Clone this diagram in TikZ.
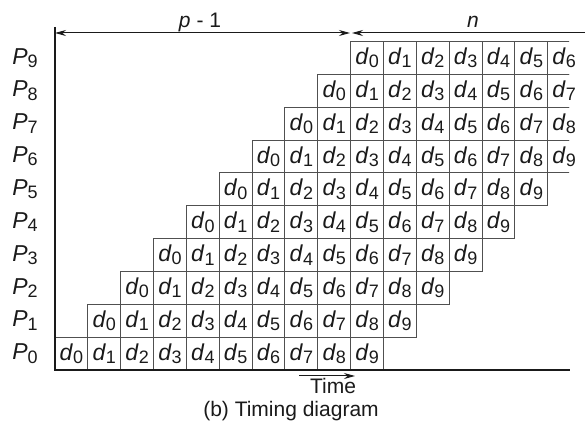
\documentclass[tikz,border=0pt]{standalone}
\usepackage{fontspec}
\setmainfont{Liberation Sans}
\usetikzlibrary{arrows.meta}
\definecolor{ink}{HTML}{1A1A1A}
\definecolor{grid}{HTML}{505050}
\newcommand{\ix}[2]{\textit{#1}\raisebox{-1.7pt}{\fontsize{9}{10}\selectfont #2}}
\tikzset{
  cellbox/.style={draw=grid,line width=0.5pt},
  celltxt/.style={inner sep=0pt,font=\fontsize{11.5}{13}\selectfont,text=ink},
  proc/.style={inner sep=0pt,font=\fontsize{11.5}{13}\selectfont,text=ink},
  lab/.style={inner sep=0pt,font=\fontsize{10.5}{12}\selectfont,text=ink},
  axisline/.style={draw=ink,line width=0.6pt},
  span/.style={draw=ink,line width=0.5pt,{Stealth[length=5.5pt,width=3pt]}-{Stealth[length=5.5pt,width=3pt]}},
  spanl/.style={draw=ink,line width=0.5pt,{Stealth[length=5.5pt,width=3pt]}-},
  arr/.style={draw=ink,line width=0.5pt,-{Stealth[length=5.5pt,width=3pt]}},
}
\begin{document}
\begin{tikzpicture}[x=0.5pt,y=-0.5pt]
  \useasboundingbox (0,0) rectangle (585,421);
  \def\w{32.85}
  % grid of cells, cut at the right edge
  \begin{scope}
    \clip (0,0) rectangle (569,421);
    \foreach \p in {0,...,9}{
      \foreach \k in {0,...,9}{
        \draw[cellbox] ({55+(\p+\k)*\w},{370-\p*\w}) rectangle +(\w,-\w);
      }
    }
  \end{scope}
  \foreach \p in {0,...,9}{
    \node[proc] (P\p) at (25,{370-(\p+0.5)*\w}) {\ix{P}{\p}};
    \foreach \k in {0,...,9}{
      \pgfmathtruncatemacro\col{\p+\k}
      \ifnum\col<16
        \node[celltxt] (c\p-\k) at ({55+(\col+0.5)*\w},{370-(\p+0.5)*\w}) {\ix{d}{\k}};
      \fi
    }
  }
  % axes
  \coordinate (top) at (55,27);
  \coordinate (org) at (55,370);
  \coordinate (end) at (570,370);
  \draw[axisline] (top) -- (org) -- (end);
  % spans
  \coordinate (pl) at (55,33);
  \coordinate (pm) at (350,33);
  \coordinate (nm) at (352,33);
  \coordinate (nr) at (585,33);
  \draw[span] (pl) -- (pm);
  \draw[spanl] (nm) -- (nr);
  \node[lab] (plab) at (200,22) {\textit{p} - 1};
  \node[lab] (nlab) at (473,22) {\textit{n}};
  % time
  \coordinate (t0) at (299,376);
  \coordinate (t1) at (355,376);
  \draw[arr] (t0) -- (t1);
  \node[lab] (time) at (333,386) {Time};
  \node[lab] (cap) at (291,411) {(b) Timing diagram};
\end{tikzpicture}
\end{document}
